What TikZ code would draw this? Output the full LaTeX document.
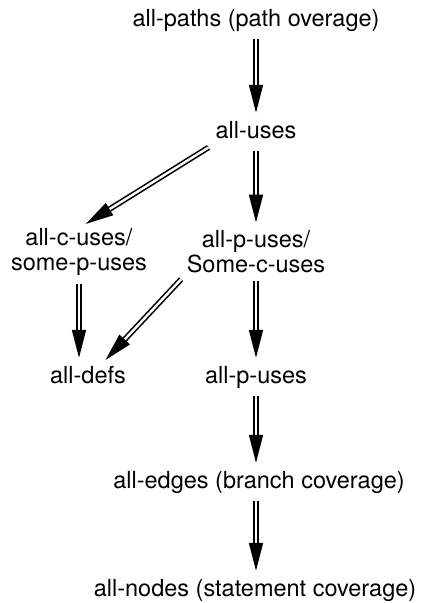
\documentclass[tikz,border=0pt]{standalone}
\usepackage{fontspec}
\setmainfont{TeX Gyre Heros}
\usetikzlibrary{arrows.meta,positioning,calc}

\begin{document}
\begin{tikzpicture}[x=1pt, y=-1pt,
  crit/.style={inner sep=0pt, text height=17pt, text depth=5pt, font=\fontsize{23.5}{25}\selectfont},
  crittwo/.style={inner sep=0pt, align=center, font=\fontsize{23.5}{25}\selectfont},
  implies/.style={double, double distance=2.4pt, line width=1.6pt,
    -{Triangle[length=28pt, width=14pt]}, shorten <=8pt, shorten >=8pt}]
  \useasboundingbox (0,0) rectangle (422,603);
  % coverage criteria
  \node[crit] (paths) at (256,20) {all-paths (path overage)};
  \node[crit] (uses) at (256,132) {all-uses};
  \node[crittwo] (cuses) at (79,252) {all-c-uses/\\some-p-uses};
  \node[crittwo] (pcuses) at (256,252) {all-p-uses/\\Some-c-uses};
  \node[crit] (defs) at (88,377) {all-defs};
  \node[crit] (puses) at (256,377) {all-p-uses};
  \node[crit] (edges) at (259,482) {all-edges (branch coverage)};
  \node[crit] (nodes) at (255,590) {all-nodes (statement coverage)};
  % subsumption arrows
  \draw[implies] (paths) -- (uses);
  \draw[implies] (uses.south west) -- (cuses.north);
  \draw[implies] (uses) -- (pcuses);
  \draw[implies] (cuses.south) -- (cuses.south |- defs.north);
  \draw[implies] (pcuses.south west) -- ([xshift=12pt]defs.north);
  \draw[implies] (pcuses) -- (puses);
  \draw[implies] (puses.south) -- (puses.south |- edges.north);
  \draw[implies] (edges.south -| puses.south) -- (puses.south |- nodes.north);
\end{tikzpicture}
\end{document}
